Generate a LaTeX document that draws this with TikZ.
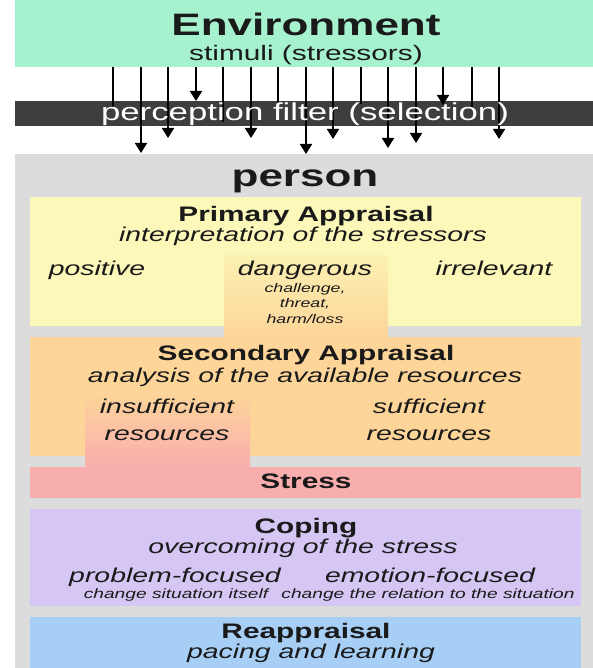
\documentclass[tikz,border=0pt]{standalone}
\usepackage{fontspec}
\setmainfont[FakeStretch=1.42]{Liberation Sans}
\usetikzlibrary{arrows.meta}
\definecolor{cgreen}{HTML}{A6F2CF}
\definecolor{cband}{HTML}{3E3E3E}
\definecolor{cgray}{HTML}{DCDCDC}
\definecolor{cyellow}{HTML}{FBF8B9}
\definecolor{corange}{HTML}{FDD599}
\definecolor{cpink}{HTML}{F9AEAE}
\definecolor{cpurple}{HTML}{D5C6F4}
\definecolor{cblue}{HTML}{A7CFF6}
\definecolor{ctext}{HTML}{1A1A1A}
\tikzset{
  lbl/.style={anchor=base, inner sep=0pt, text=ctext},
  big/.style={lbl, font=\fontsize{31}{31}\selectfont\bfseries},
  head/.style={lbl, font=\fontsize{21}{21}\selectfont\bfseries},
  sub/.style={lbl, font=\fontsize{20}{20}\selectfont\itshape},
  tiny/.style={lbl, font=\fontsize{12.5}{12.5}\selectfont\itshape},
  stim/.style={line width=1.7pt, black},
  stimarrow/.style={stim, -{Triangle[width=12pt,length=10pt]}},
}
\begin{document}
\begin{tikzpicture}[x=1pt,y=-1pt]
\useasboundingbox (0,0) rectangle (593,668);
\fill[white] (0,0) rectangle (593,668);
% environment
\fill[cgreen] (15,0) rectangle (593,67);
\node[big] (env) at (306,36) {Environment};
\node[lbl, font=\fontsize{21}{21}\selectfont] (stimuli) at (306,61) {stimuli (stressors)};
% person
\fill[cgray] (15,154) rectangle (593,668);
% filter band
\fill[cband] (15,101) rectangle (593,126);
% stimuli lines
\foreach \x/\y [count=\i] in {113/107,223/122,278/105,361/104,472/107}{
  \coordinate (ls\i) at (\x,67);
  \coordinate (le\i) at (\x,\y);
  \draw[stim] (ls\i) -- (le\i);
}
\foreach \x/\y [count=\i] in {141/153,168/138,196/101,251/138,306/154,333/139,388/148,416/143,443/105,499/139}{
  \coordinate (as\i) at (\x,67);
  \coordinate (ae\i) at (\x,\y);
  \draw[stimarrow] (as\i) -- (ae\i);
}
\node[lbl, text=white, font=\fontsize{24.5}{24.5}\selectfont] (filter) at (305,121) {perception filter (selection)};
\node[big] (person) at (305,187) {person};
% primary appraisal
\fill[cyellow] (30,197) rectangle (581,326);
\shade[top color=cyellow!80!corange, bottom color=corange] (224,255) rectangle (388,337);
\node[head] (prim) at (306,222) {Primary Appraisal};
\node[sub] (primsub) at (303,241) {interpretation of the stressors};
\node[sub] (pos) at (97,275) {positive};
\node[sub] (dang) at (305,275) {dangerous};
\node[sub] (irr) at (494,275) {irrelevant};
\node[tiny] (chal) at (305,292) {challenge,};
\node[tiny] (thr) at (305,307) {threat,};
\node[tiny] (harm) at (305,323) {harm/loss};
% secondary appraisal
\fill[corange] (30,337) rectangle (581,456);
\shade[top color=corange, bottom color=cpink] (85,392) rectangle (250,467);
\node[head] (sec) at (306,360) {Secondary Appraisal};
\node[sub] (secsub) at (305,382) {analysis of the available resources};
\node[sub] (insuf) at (167,413) {insufficient};
\node[sub] (insufr) at (167,440) {resources};
\node[sub] (suf) at (429,413) {sufficient};
\node[sub] (sufr) at (429,440) {resources};
% stress
\fill[cpink] (30,467) rectangle (581,498);
\node[head] (stress) at (306,488) {Stress};
% coping
\fill[cpurple] (30,509) rectangle (581,606);
\node[head] (cop) at (306,533) {Coping};
\node[sub] (copsub) at (303,553) {overcoming of the stress};
\node[sub] (prob) at (175,582) {problem-focused};
\node[sub] (emo) at (430,582) {emotion-focused};
\node[tiny, font=\fontsize{13.5}{13.5}\selectfont\itshape] (probs) at (176,598) {change situation itself};
\node[tiny, font=\fontsize{13.5}{13.5}\selectfont\itshape] (emos) at (428,598) {change the relation to the situation};
% reappraisal
\fill[cblue] (30,617) rectangle (581,668);
\node[head] (reap) at (306,638) {Reappraisal};
\node[sub] (reapsub) at (311,658) {pacing and learning};
\end{tikzpicture}
\end{document}
